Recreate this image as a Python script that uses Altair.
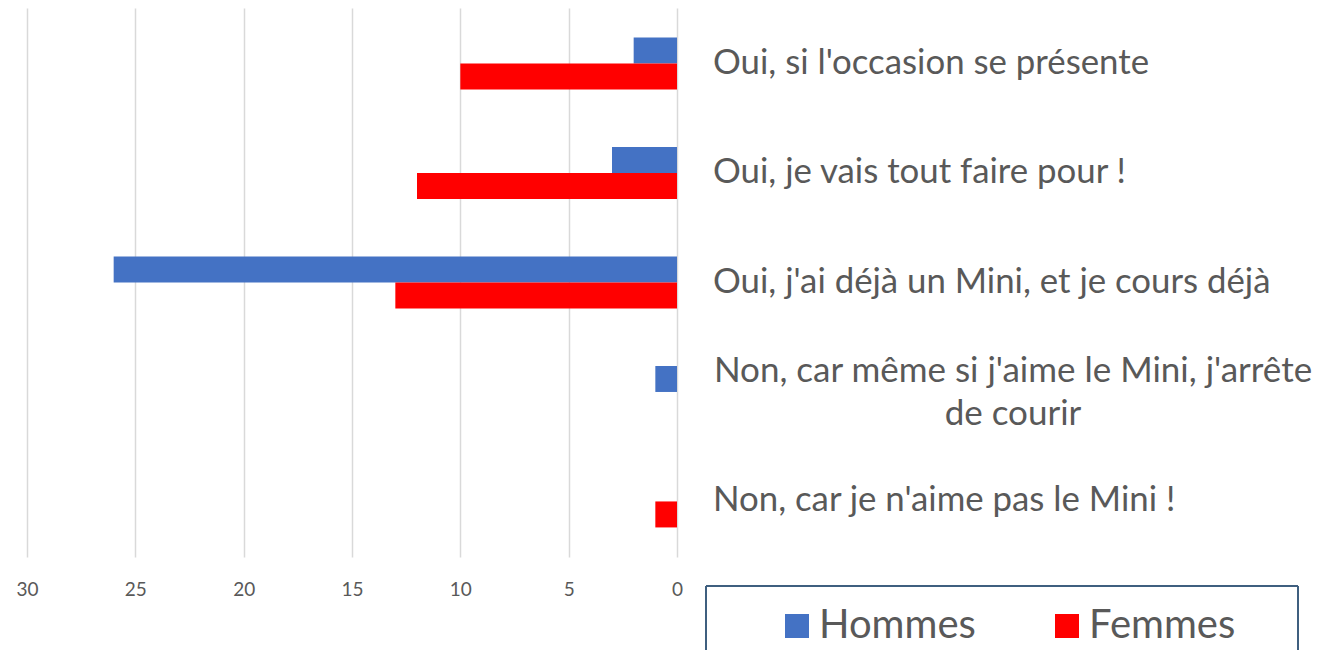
import altair as alt
import pandas as pd

categories = [
    "Oui, si l'occasion se présente",
    "Oui, je vais tout faire pour !",
    "Oui, j'ai déjà un Mini, et je cours déjà",
    "Non, car même si j'aime le Mini, j'arrête de courir",
    "Non, car je n'aime pas le Mini !",
]
display_labels = [
    "Oui, si l'occasion se présente",
    "Oui, je vais tout faire pour !",
    "Oui, j'ai déjà un Mini, et je cours déjà",
    "Non, car même si j'aime le Mini, j'arrête\nde courir",
    "Non, car je n'aime pas le Mini !",
]
hommes = [2, 3, 26, 1, 0]
femmes = [10, 12, 13, 0, 1]
series = ["Hommes", "Femmes"]
colors = ["#4472C4", "#FF0000"]
x_ticks = [0, 5, 10, 15, 20, 25, 30]

FONT = "Lato"
TXT = "#595959"
BOX = "#3F5F7F"

rows = []
for c, h, f in zip(categories, hommes, femmes):
    rows.append({"cat": c, "serie": "Hommes", "val": h})
    rows.append({"cat": c, "serie": "Femmes", "val": f})
df = pd.DataFrame(rows)

lab = pd.DataFrame({
    "cat": categories,
    "label": display_labels,
    "multi": ["\n" in s for s in display_labels],
})

yscale = alt.Scale(domain=categories, paddingInner=0.525, paddingOuter=0.27)

bars = alt.Chart(df).mark_bar().encode(
    x=alt.X(
        "val:Q",
        scale=alt.Scale(domain=[0, 30], reverse=True, nice=False),
        axis=alt.Axis(
            values=x_ticks, title=None, domain=False, ticks=False,
            grid=True, gridColor="#D9D9D9", gridWidth=1.5, labelFlush=False,
            labelFont=FONT, labelFontSize=19, labelColor=TXT, labelPadding=23,
        ),
    ),
    y=alt.Y("cat:N", sort=categories, scale=yscale, axis=None),
    yOffset=alt.YOffset("serie:N", sort=series, scale=alt.Scale(domain=series)),
    color=alt.Color(
        "serie:N",
        scale=alt.Scale(domain=series, range=colors),
        legend=alt.Legend(
            orient="none", legendX=750, legendY=598, direction="horizontal",
            title=None, symbolType="square", symbolSize=576, symbolStrokeWidth=0,
            labelFont=FONT, labelFontSize=40, labelColor=TXT,
            columnPadding=71, labelOffset=2, padding=0,
        ),
    ),
)

single = alt.Chart(lab).transform_filter("!datum.multi").mark_text(
    align="left", baseline="middle", font=FONT, fontSize=34.8, color=TXT,
).encode(
    y=alt.Y("cat:N", sort=categories, scale=yscale, axis=None),
    x=alt.value(686),
    text="label:N",
)

multi = alt.Chart(lab).transform_filter("datum.multi").mark_text(
    align="center", baseline="middle", font=FONT, fontSize=35, color=TXT,
    lineBreak="\n", lineHeight=43, dy=-21,
).encode(
    y=alt.Y("cat:N", sort=categories, scale=yscale, axis=None),
    x=alt.value(986),
    text="label:N",
)

one = alt.Data(values=[{}])
box_left = alt.Chart(one).mark_rule(color=BOX, strokeWidth=2).encode(
    x=alt.value(679), y=alt.value(578), y2=alt.value(642),
)
box_top = alt.Chart(one).mark_rule(color=BOX, strokeWidth=2).encode(
    x=alt.value(679), x2=alt.value(1271), y=alt.value(578),
)
box_right = alt.Chart(one).mark_rule(color=BOX, strokeWidth=2).encode(
    x=alt.value(1271), y=alt.value(578), y2=alt.value(642),
)

chart = alt.layer(box_left, box_top, box_right, bars, single, multi).properties(
    width=650, height=549,
    padding={"left": 7, "top": 0, "right": 0, "bottom": 0},
).configure_view(stroke=None)

chart.save("out.html", embed_options={"renderer": "svg", "actions": False})
